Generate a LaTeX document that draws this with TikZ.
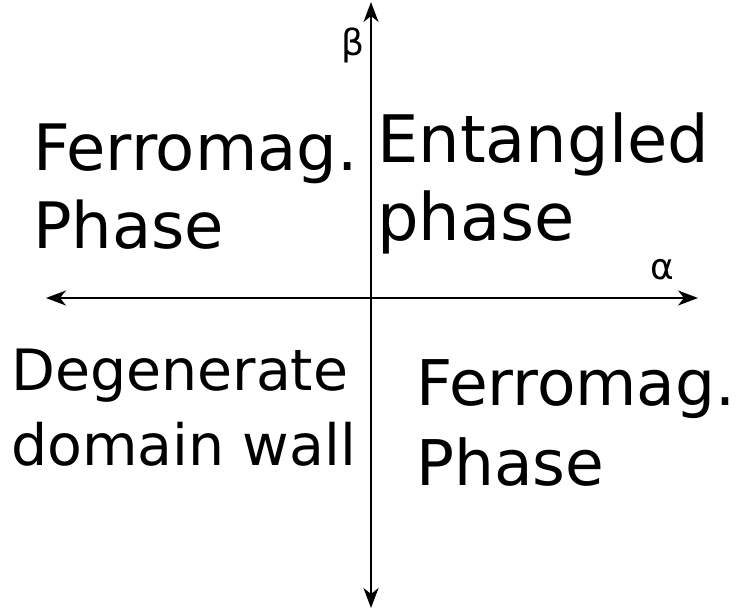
\documentclass[tikz,border=0pt]{standalone}
\usepackage{fontspec}
\setmainfont{DejaVu Sans}
\usetikzlibrary{arrows.meta}
\begin{document}
\begin{tikzpicture}[x=1pt,y=-1pt,
  axis/.style={line width=1.8pt,{Stealth[length=20pt,width=15pt,inset=6pt]}-{Stealth[length=20pt,width=15pt,inset=6pt]}},
  region/.style={anchor=base west,inner sep=0pt,align=left},
  big/.style={font=\fontsize{64}{78}\selectfont},
  small/.style={font=\fontsize{57}{75}\selectfont},
  axlabel/.style={inner sep=0pt,font=\fontsize{36}{40}\selectfont}]
\useasboundingbox (0,0) rectangle (739,613);
\coordinate (btop) at (371,2);
\coordinate (bbot) at (371,608);
\coordinate (aleft) at (46,298);
\coordinate (aright) at (698,298);
\draw[axis] (bbot) -- (btop);
\draw[axis] (aleft) -- (aright);
\node[axlabel] (beta) at (353,45) {β};
\node[axlabel] (alpha) at (662,270) {α};
\node[region,big] (fm1) at (33,248) {Ferromag.\\Phase};
\node[region,font=\fontsize{65.5}{78}\selectfont] (ent) at (377,240) {Entangled\\phase};
\node[region,small] (deg) at (11,465) {Degenerate\\domain wall};
\node[region,font=\fontsize{63}{80}\selectfont] (fm2) at (416,485) {Ferromag.\\Phase};
\end{tikzpicture}
\end{document}
